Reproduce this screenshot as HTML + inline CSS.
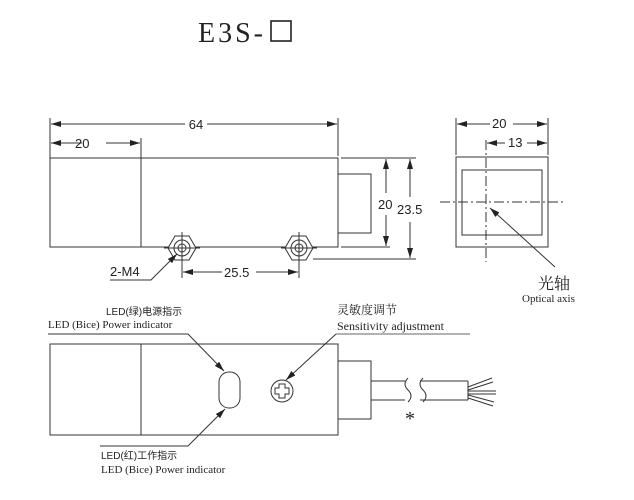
<!DOCTYPE html>
<html><head><meta charset="utf-8"><style>
html,body{margin:0;padding:0;background:#fff;}
svg{display:block;}
.s{font-family:"Liberation Sans","Noto Sans CJK SC",sans-serif;}
.r{font-family:"Liberation Serif","Noto Serif CJK SC",serif;}
</style></head><body>
<svg width="634" height="500" viewBox="0 0 634 500" xmlns="http://www.w3.org/2000/svg">
<defs>
<marker id="a" markerWidth="10" markerHeight="6" refX="10" refY="3" orient="auto" markerUnits="userSpaceOnUse"><path d="M0,0 L10,3 L0,6 z" fill="#222"/></marker>
<marker id="b" markerWidth="10" markerHeight="6" refX="0" refY="3" orient="auto" markerUnits="userSpaceOnUse"><path d="M10,0 L0,3 L10,6 z" fill="#222"/></marker>
</defs>
<g stroke="#333" stroke-width="1" fill="none">
<rect x="271" y="21" width="20" height="20" stroke="#222" stroke-width="1.6"/>
<rect x="50" y="158" width="288" height="89"/>
<line x1="141" y1="158" x2="141" y2="247"/>
<rect x="338" y="174" width="33" height="59"/>
<line x1="50" y1="118" x2="50" y2="158"/>
<line x1="338" y1="118" x2="338" y2="156"/>
<line x1="141" y1="138" x2="141" y2="158"/>
<line x1="51" y1="124" x2="185" y2="124" marker-start="url(#b)"/>
<line x1="207" y1="124" x2="337" y2="124" marker-end="url(#a)"/>
<line x1="51" y1="143" x2="82" y2="143" marker-start="url(#b)"/>
<line x1="106" y1="143" x2="140" y2="143" marker-end="url(#a)"/>
<line x1="341" y1="158" x2="416" y2="158"/>
<line x1="341" y1="247" x2="390" y2="247"/>
<line x1="313" y1="259" x2="416" y2="259"/>
<line x1="386" y1="159" x2="386" y2="193" marker-start="url(#b)"/>
<line x1="386" y1="215" x2="386" y2="246" marker-end="url(#a)"/>
<line x1="410" y1="159" x2="410" y2="197" marker-start="url(#b)"/>
<line x1="410" y1="222" x2="410" y2="258" marker-end="url(#a)"/>
<g>
<polygon points="168,248 175,236 189,236 196,248 189,260 175,260" fill="#fff"/>
<circle cx="182" cy="248" r="8"/>
<circle cx="182" cy="248" r="4"/>
<line x1="182" y1="232" x2="182" y2="278"/><line x1="164" y1="248" x2="200" y2="248"/>
<polygon points="285,248 292,236 306,236 313,248 306,260 292,260" fill="#fff"/>
<circle cx="299" cy="248" r="8"/>
<circle cx="299" cy="248" r="4"/>
<line x1="299" y1="232" x2="299" y2="278"/><line x1="281" y1="248" x2="317" y2="248"/>
</g>
<line x1="183" y1="272" x2="222" y2="272" marker-start="url(#b)"/>
<line x1="256" y1="272" x2="298" y2="272" marker-end="url(#a)"/>
<polyline points="110,280 151,280 177,254" marker-end="url(#a)"/>
<rect x="456" y="157" width="92" height="90"/>
<rect x="462" y="170" width="80" height="65"/>
<line x1="456" y1="118" x2="456" y2="155"/>
<line x1="548" y1="118" x2="548" y2="155"/>
<line x1="457" y1="124" x2="490" y2="124" marker-start="url(#b)"/>
<line x1="513" y1="124" x2="547" y2="124" marker-end="url(#a)"/>
<line x1="487" y1="143" x2="505" y2="143" marker-start="url(#b)"/>
<line x1="527" y1="143" x2="547" y2="143" marker-end="url(#a)"/>
<line x1="486" y1="140" x2="486" y2="262" stroke-dasharray="10,3,2,3"/>
<line x1="440" y1="202" x2="566" y2="202" stroke-dasharray="10,3,2,3"/>
<line x1="555" y1="267" x2="490" y2="208" marker-end="url(#a)"/>
<rect x="50" y="344" width="288" height="91"/>
<line x1="141" y1="344" x2="141" y2="435"/>
<rect x="338" y="361" width="33" height="58"/>
<line x1="371" y1="381" x2="405" y2="381"/><line x1="371" y1="400" x2="405" y2="400"/>
<line x1="420" y1="381" x2="468" y2="381"/><line x1="420" y1="400" x2="468" y2="400"/>
<path d="M408,378 q-6,6 0,12 q6,6 0,12"/>
<path d="M423,378 q-6,6 0,12 q6,6 0,12"/>
<line x1="468" y1="381" x2="468" y2="400"/>
<line x1="468" y1="387" x2="492" y2="378"/><line x1="468" y1="390" x2="493" y2="382"/>
<line x1="468" y1="391" x2="496" y2="391"/><line x1="468" y1="394" x2="496" y2="394"/>
<line x1="468" y1="395" x2="494" y2="402"/><line x1="468" y1="398" x2="493" y2="406"/>
<rect x="219" y="372" width="21" height="36" rx="10"/>
<circle cx="282" cy="391" r="11"/>
<path d="M279,384 h6 v4 h4 v6 h-4 v4 h-6 v-4 h-4 v-6 h4 z"/>
<polyline points="48,334 188,334 224,371" marker-end="url(#a)"/>
<polyline points="336,334 470,334" stroke="#666"/>
<line x1="336" y1="334" x2="286" y2="380" marker-end="url(#a)"/>
<polyline points="100,446 188,446 225,409" marker-end="url(#a)"/>
</g>
<text x="198" y="42" class="r" font-size="28" fill="#222" letter-spacing="3">E3S-</text>
<g class="s" fill="#222" font-size="12">
<text x="196" y="129" text-anchor="middle" font-size="13">64</text>
<text x="75" y="148" font-size="13">20</text>
<text x="378" y="209" font-size="13">20</text>
<text x="397" y="214" font-size="13">23.5</text>
<text x="224" y="277" font-size="13">25.5</text>
<text x="110" y="276" font-size="13">2-M4</text>
<text x="492" y="128" font-size="13">20</text>
<text x="508" y="147" font-size="13">13</text>
<text x="106" y="315" font-size="10">LED(绿)电源指示</text>
<text x="101" y="459" font-size="10">LED(红)工作指示</text>
</g>
<g class="r" fill="#222">
<text x="538" y="289" font-size="16" font-family="Noto Serif CJK SC,serif">光轴</text>
<text x="522" y="302" font-size="11">Optical axis</text>
<text x="48" y="328" font-size="11">LED  (Bice) Power indicator</text>
<text x="101" y="473" font-size="11">LED  (Bice) Power indicator</text>
<text x="337" y="314" font-size="12" font-family="Noto Serif CJK SC,serif">灵敏度调节</text>
<text x="337" y="330" font-size="12">Sensitivity adjustment</text>
<text x="405" y="425" font-size="20">*</text>
</g>
</svg>
</body></html>
